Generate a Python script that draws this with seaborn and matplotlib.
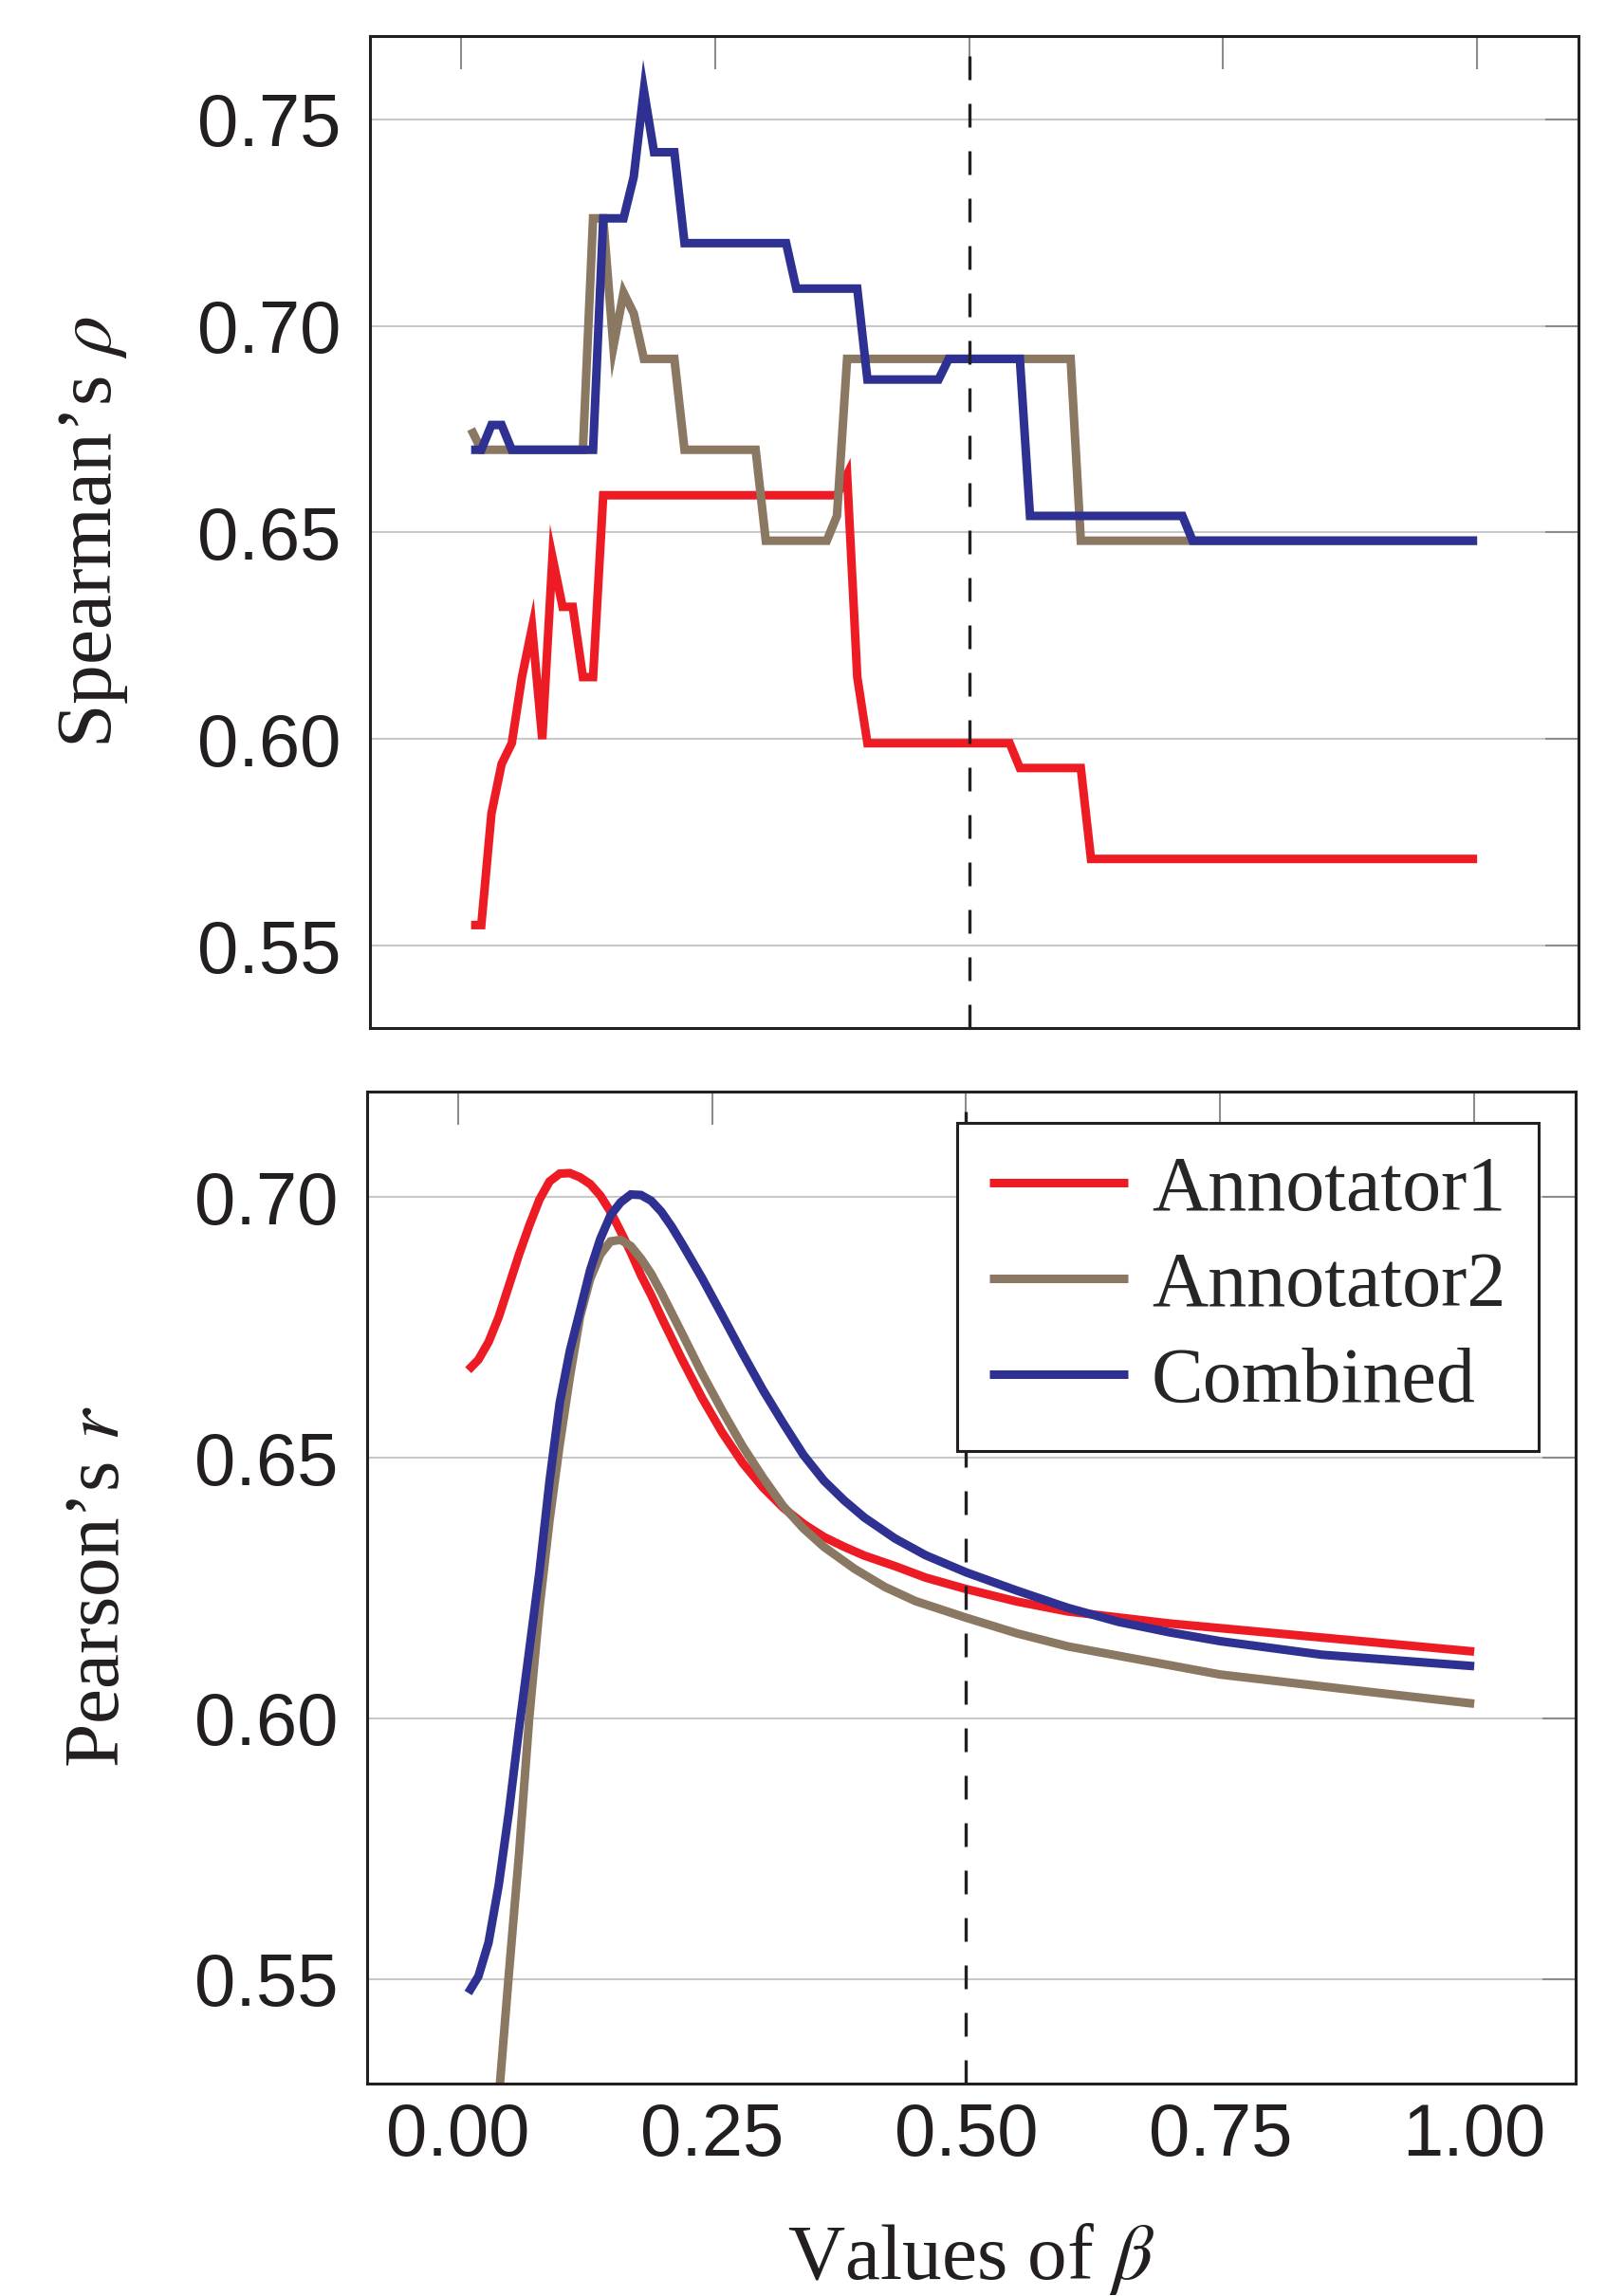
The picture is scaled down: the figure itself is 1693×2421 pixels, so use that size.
import seaborn as sns
import matplotlib
matplotlib.use("Agg")
import matplotlib.pyplot as plt
from matplotlib.ticker import FormatStrFormatter

# top panel: Spearman's rho against beta (only the break points of each step line)
sp_beta_a1 = [0.01, 0.02, 0.03, 0.04, 0.05, 0.06, 0.07, 0.08, 0.09, 0.10, 0.11, 0.12,
              0.13, 0.14, 0.37, 0.38, 0.39, 0.40, 0.54, 0.55, 0.61, 0.62, 1.00]
sp_a1 = [0.555, 0.555, 0.582, 0.594, 0.599, 0.615, 0.627, 0.600, 0.644, 0.632, 0.632, 0.615,
         0.615, 0.659, 0.659, 0.664, 0.615, 0.599, 0.599, 0.593, 0.593, 0.571, 0.571]

sp_beta_a2 = [0.01, 0.02, 0.12, 0.13, 0.14, 0.15, 0.16, 0.17, 0.18, 0.21, 0.22, 0.29,
              0.30, 0.36, 0.37, 0.38, 0.60, 0.61, 1.00]
sp_a2 = [0.675, 0.670, 0.670, 0.726, 0.726, 0.695, 0.708, 0.703, 0.692, 0.692, 0.670, 0.670,
         0.648, 0.648, 0.654, 0.692, 0.692, 0.648, 0.648]

sp_beta_comb = [0.01, 0.02, 0.03, 0.04, 0.05, 0.13, 0.14, 0.16, 0.17, 0.18, 0.19, 0.21,
                0.22, 0.32, 0.33, 0.39, 0.40, 0.47, 0.48, 0.55, 0.56, 0.71, 0.72, 1.00]
sp_comb = [0.670, 0.670, 0.676, 0.676, 0.670, 0.670, 0.726, 0.726, 0.736, 0.757, 0.742, 0.742,
           0.720, 0.720, 0.709, 0.709, 0.687, 0.687, 0.692, 0.692, 0.654, 0.654, 0.648, 0.648]

# bottom panel: Pearson's r against beta
pr_beta_a1 = [0.01, 0.02, 0.03, 0.04, 0.05, 0.06, 0.07, 0.08, 0.09, 0.10, 0.11, 0.12, 0.13,
              0.14, 0.15, 0.16, 0.17, 0.18, 0.19, 0.20, 0.22, 0.24, 0.26, 0.28, 0.30, 0.32,
              0.34, 0.36, 0.38, 0.40, 0.43, 0.46, 0.50, 0.55, 0.60, 0.70, 0.80, 0.90, 1.00]
pr_a1 = [0.6668, 0.6688, 0.6722, 0.6770, 0.6830, 0.6890, 0.6945, 0.6995, 0.7030, 0.7045,
         0.7046, 0.7038, 0.7025, 0.7003, 0.6972, 0.6934, 0.6894, 0.6850, 0.6812, 0.6770,
         0.6690, 0.6615, 0.6548, 0.6490, 0.6443, 0.6404, 0.6373, 0.6348, 0.6329, 0.6312,
         0.6292, 0.6270, 0.6248, 0.6224, 0.6205, 0.6182, 0.6164, 0.6146, 0.6128]

pr_beta_a2 = [0.01, 0.02, 0.03, 0.04, 0.05, 0.06, 0.07, 0.08, 0.09, 0.10, 0.11, 0.12, 0.13,
              0.14, 0.15, 0.16, 0.17, 0.18, 0.19, 0.20, 0.22, 0.24, 0.26, 0.28, 0.30, 0.32,
              0.34, 0.36, 0.39, 0.42, 0.45, 0.50, 0.55, 0.60, 0.75, 0.90, 1.00]
pr_a2 = [0.448, 0.475, 0.502, 0.527, 0.551, 0.574, 0.600, 0.621, 0.638, 0.6525, 0.6655,
         0.6770, 0.6843, 0.6890, 0.6915, 0.6918, 0.6906, 0.6882, 0.6853, 0.6817, 0.6740,
         0.6662, 0.6590, 0.6522, 0.6462, 0.6407, 0.6364, 0.6329, 0.6287, 0.6252, 0.6225,
         0.6193, 0.6163, 0.6138, 0.6084, 0.6050, 0.6028]

pr_beta_comb = [0.01, 0.02, 0.03, 0.04, 0.05, 0.06, 0.07, 0.08, 0.09, 0.10, 0.11, 0.12, 0.13,
                0.14, 0.15, 0.16, 0.17, 0.18, 0.19, 0.20, 0.21, 0.22, 0.24, 0.26, 0.28, 0.30,
                0.32, 0.34, 0.36, 0.38, 0.40, 0.43, 0.46, 0.50, 0.55, 0.60, 0.65, 0.70, 0.75,
                0.85, 1.00]
pr_comb = [0.5473, 0.5505, 0.5570, 0.5680, 0.5820, 0.5980, 0.6130, 0.6280, 0.6455, 0.6605,
           0.6705, 0.6782, 0.6860, 0.6920, 0.6965, 0.6990, 0.7005, 0.7004, 0.6993, 0.6972,
           0.6944, 0.6912, 0.6845, 0.6773, 0.6700, 0.6630, 0.6566, 0.6505, 0.6456, 0.6418,
           0.6385, 0.6345, 0.6313, 0.6280, 0.6245, 0.6212, 0.6185, 0.6165, 0.6148, 0.6122,
           0.6100]

names = ["Annotator1", "Annotator2", "Combined"]
colors = ["#ED1C24", "#8B7862", "#2E3192"]
xticks = [0.0, 0.25, 0.5, 0.75, 1.0]

sns.set_style("white")
plt.rcParams["font.family"] = ["Liberation Serif", "DejaVu Serif"]
plt.rcParams["mathtext.fontset"] = "stix"

fig = plt.figure(figsize=(16.93, 24.21), dpi=100)
ax1 = fig.add_axes([0.2304, 0.5521, 0.7523, 0.4320])
ax2 = fig.add_axes([0.2286, 0.0927, 0.7523, 0.4320])

line_kw = dict(linewidth=6.5, solid_joinstyle="miter", solid_capstyle="butt")

top = [(sp_beta_a1, sp_a1), (sp_beta_a2, sp_a2), (sp_beta_comb, sp_comb)]
bottom = [(pr_beta_a1, pr_a1), (pr_beta_a2, pr_a2), (pr_beta_comb, pr_comb)]
for (bx, by), name, col in zip(top, names, colors):
    sns.lineplot(x=bx, y=by, color=col, ax=ax1, legend=False, **line_kw)
for (bx, by), name, col in zip(bottom, names, colors):
    sns.lineplot(x=bx, y=by, color=col, label=name, ax=ax2, legend=False, **line_kw)


def style_axis(ax, ylim, yticks):
    ax.set_xlim(-0.0895, 1.0995)
    ax.set_ylim(*ylim)
    ax.set_xticks(xticks)
    ax.set_yticks(yticks)
    ax.xaxis.set_major_formatter(FormatStrFormatter("%.2f"))
    ax.yaxis.set_major_formatter(FormatStrFormatter("%.2f"))
    ax.grid(False)
    ax.yaxis.grid(True, color="#c8c8c8", linewidth=1.5)
    ax.set_axisbelow(True)
    ax.tick_params(direction="in", length=25, width=1.5, color="#8c8c8c",
                   top=True, right=True, labelsize=56,
                   labelfontfamily="Liberation Sans", labelcolor="#231f20")
    ax.tick_params(axis="x", pad=14)
    ax.tick_params(axis="y", pad=22)
    for s in ax.spines.values():
        s.set_color("#231f20")
        s.set_linewidth(2.2)
    # dashed marker at beta = 0.5
    ax.axvline(0.5, color="#231f20", linewidth=2.4, dashes=(7.5, 7.5), zorder=3)


style_axis(ax1, (0.530, 0.770), [0.55, 0.60, 0.65, 0.70, 0.75])
style_axis(ax2, (0.530, 0.7203), [0.55, 0.60, 0.65, 0.70])
ax1.tick_params(labelbottom=False)

ax1.set_ylabel("Spearman\u2019s $\\rho$", fontsize=60, color="#231f20")
ax1.yaxis.set_label_coords(-0.199, 0.5)
ax2.set_ylabel("Pearson\u2019s $r$", fontsize=60, color="#231f20")
ax2.yaxis.set_label_coords(-0.1916, 0.5)
ax2.set_xlabel("Values of $\\beta$", fontsize=60, color="#231f20")
ax2.xaxis.set_label_coords(0.5, -0.139)

leg = ax2.legend(loc="upper right", bbox_to_anchor=(0.9694, 0.9684), borderaxespad=0,
                 fontsize=59, frameon=True, fancybox=False, edgecolor="#231f20",
                 framealpha=1, handlelength=1.78, handletextpad=0.3, borderpad=0.42,
                 labelspacing=0.31)
leg.get_frame().set_linewidth(2.2)

fig.savefig("out.png", dpi=100)
